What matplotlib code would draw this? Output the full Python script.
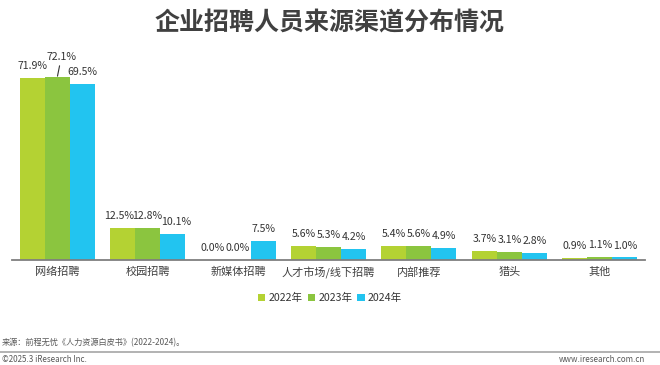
import matplotlib
matplotlib.use("Agg")
import matplotlib.pyplot as plt
from matplotlib.patches import Patch
from matplotlib.lines import Line2D

plt.rcParams['font.family'] = ['Noto Sans CJK SC', 'DejaVu Sans']

categories = ['网络招聘', '校园招聘', '新媒体招聘', '人才市场/线下招聘', '内部推荐', '猎头', '其他']
series_names = ['2022年', '2023年', '2024年']
v2022 = [71.9, 12.5, 0.0, 5.6, 5.4, 3.7, 0.9]
v2023 = [72.1, 12.8, 0.0, 5.3, 5.6, 3.1, 1.1]
v2024 = [69.5, 10.1, 7.5, 4.2, 4.9, 2.8, 1.0]
colors = ['#B4D233', '#8BC53F', '#22C4F0']

title = '企业招聘人员来源渠道分布情况'
source = '来源：前程无忧《人力资源白皮书》(2022-2024)。'
footer_left = '©2025.3 iResearch Inc.'
footer_right = 'www.iresearch.com.cn'

W, H = 660, 365
fig = plt.figure(figsize=(W / 100, H / 100), dpi=100)
fig.patch.set_facecolor('white')

ax_left, ax_right = 12, 645
base_y = 260
ymax = 80
px_per = 182 / 71.9
ax_h = ymax * px_per
ax = fig.add_axes([ax_left / W, 1 - base_y / H, (ax_right - ax_left) / W, ax_h / H])

n = len(categories)
xs = list(range(n))
bw = 25 / ((ax_right - ax_left) / n)
all_series = [v2022, v2023, v2024]
for i, (vals, c) in enumerate(zip(all_series, colors)):
    off = (i - 1) * bw
    pos = [x + off for x in xs]
    ax.bar(pos, vals, width=bw, color=c, edgecolor='none', zorder=2)
    for j, (p, v) in enumerate(zip(pos, vals)):
        lbl = f'{v:.1f}%'
        if i == 1 and j == 0:
            ax.annotate(lbl, xy=(p, v), xytext=(3, 15), textcoords='offset points',
                        ha='center', va='center', fontsize=7.6, color='#333333',
                        annotation_clip=False,
                        arrowprops=dict(arrowstyle='-', color='#333333', lw=0.8,
                                        shrinkA=1, shrinkB=1))
        else:
            dx = (i - 1) * 2.6 if j == 1 else 0
            ax.annotate(lbl, xy=(p, v), xytext=(dx, 8.6), textcoords='offset points',
                        ha='center', va='center', fontsize=7.6, color='#333333',
                        annotation_clip=False)

ax.set_xlim(-0.5, n - 0.5)
ax.set_ylim(0, ymax)
for s in ['top', 'right', 'left']:
    ax.spines[s].set_visible(False)
ax.spines['bottom'].set_color('#7F7F7F')
ax.spines['bottom'].set_linewidth(1.3)
ax.set_yticks([])
ax.set_xticks(xs)
ax.set_xticklabels(categories, fontsize=8, color='#404040')
ax.tick_params(axis='x', length=0, pad=5)
ax.set_facecolor('none')

fig.text(0.5, 1 - 23 / H, title, ha='center', va='center', fontsize=18,
         fontweight='heavy', color='#404040')

handles = [Patch(facecolor=c, edgecolor='none') for c in colors]
fig.legend(handles, series_names, loc='center', bbox_to_anchor=(0.5, 1 - 298 / H),
           ncol=3, frameon=False, fontsize=7.6, handlelength=0.7, handleheight=0.7,
           handletextpad=0.3, columnspacing=0.5, labelcolor='#333333')

fig.text(2 / W, 1 - 343 / H, source, ha='left', va='center', fontsize=5.9, color='#595959')
fig.add_artist(Line2D([0, 1], [1 - 352 / H, 1 - 352 / H], transform=fig.transFigure,
                      color='#A6A6A6', lw=1.2))
fig.text(2 / W, 1 - 359 / H, footer_left, ha='left', va='center', fontsize=5.8, color='#595959')
fig.text(645 / W, 1 - 359 / H, footer_right, ha='right', va='center', fontsize=5.8, color='#595959')

fig.savefig('out.png', dpi=100)
